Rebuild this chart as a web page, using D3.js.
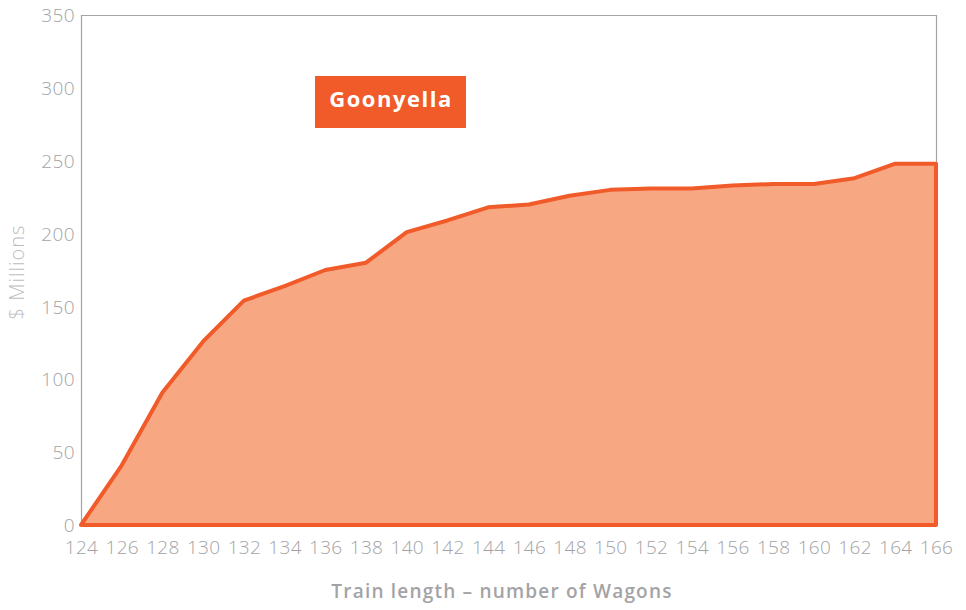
<!DOCTYPE html>
<html>
<head>
<meta charset="utf-8">
<script src="https://cdn.jsdelivr.net/npm/d3@7"></script>
<style>
  html, body { margin: 0; padding: 0; background: #fff; }
  svg { display: block; }
</style>
</head>
<body>
<svg id="chart" width="966" height="610"></svg>
<script>
// Train length (wagons) against value in $ millions
const wagons = [124, 126, 128, 130, 132, 134, 136, 138, 140, 142, 144, 146, 148, 150, 152, 154, 156, 158, 160, 162, 164, 166];
const valueMillions = [0, 41, 91, 126, 154, 164, 175, 180, 201, 209, 218, 220, 226, 230, 231, 231, 233, 234, 234, 238, 248, 248];
const yTicks = [0, 50, 100, 150, 200, 250, 300, 350];
const seriesLabel = "Goonyella";
const xTitle = "Train length \u2013 number of Wagons";
const yTitle = "$ Millions";

const data = wagons.map((w, i) => ({ w, v: valueMillions[i] }));

const svg = d3.select("#chart");
const plotLeft = 81, plotRight = 936, plotTop = 15, plotBottom = 525;

const x = d3.scaleLinear().domain([124, 166]).range([plotLeft, plotRight]);
const y = d3.scaleLinear().domain([0, 350]).range([plotBottom, plotTop]);

const grey = "#a3a3a6";
const orange = "#f15a29";
const fillColor = "#f7a883";
const labelFont = "'Open Sans', sans-serif";

// Plot frame
svg.append("path")
  .attr("d", `M${plotLeft + 0.5},${plotBottom} V${plotTop + 0.5} H${plotRight + 0.5} V${plotBottom}`)
  .attr("fill", "none")
  .attr("stroke", grey)
  .attr("stroke-width", 1.2);

// Filled area with its closed outline
const area = d3.area()
  .x(d => x(d.w))
  .y0(y(0))
  .y1(d => y(d.v));

svg.append("path")
  .datum(data)
  .attr("d", area)
  .attr("fill", fillColor)
  .attr("stroke", orange)
  .attr("stroke-width", 4)
  .attr("stroke-linejoin", "round");

// Y axis labels
const yAxis = d3.axisLeft(y).tickValues(yTicks).tickSize(0).tickPadding(6);
const gy = svg.append("g").attr("transform", `translate(${plotLeft},0)`).call(yAxis);
gy.select(".domain").remove();
gy.selectAll("text")
  .attr("fill", grey)
  .attr("font-family", labelFont)
  .attr("font-weight", 300)
  .attr("font-size", 19)
  .attr("letter-spacing", 0.4)
  .attr("dy", "0.35em");

// X axis labels
const xAxis = d3.axisBottom(x).tickValues(wagons).tickSize(0).tickPadding(16).tickFormat(d3.format("d"));
const gx = svg.append("g").attr("transform", `translate(0,${plotBottom})`).call(xAxis);
gx.select(".domain").remove();
gx.selectAll("text")
  .attr("fill", grey)
  .attr("font-family", labelFont)
  .attr("font-weight", 300)
  .attr("font-size", 19)
  .attr("letter-spacing", 0.3);

// Axis titles
svg.append("text")
  .attr("x", 502)
  .attr("y", 598)
  .attr("text-anchor", "middle")
  .attr("fill", grey)
  .attr("font-family", labelFont)
  .attr("font-weight", 600)
  .attr("font-size", 19)
  .attr("letter-spacing", 1.2)
  .text(xTitle);

svg.append("text")
  .attr("transform", `translate(24,272) rotate(-90)`)
  .attr("text-anchor", "middle")
  .attr("fill", "#bdbdbf")
  .attr("font-family", labelFont)
  .attr("font-weight", 300)
  .attr("font-size", 20)
  .attr("letter-spacing", 1)
  .text(yTitle);

// Series label badge
const badge = svg.append("g").attr("transform", "translate(315,76)");
badge.append("rect")
  .attr("width", 151)
  .attr("height", 52)
  .attr("fill", orange);
badge.append("text")
  .attr("x", 76)
  .attr("y", 31)
  .attr("text-anchor", "middle")
  .attr("fill", "#fff")
  .attr("font-family", labelFont)
  .attr("font-weight", 700)
  .attr("font-size", 22)
  .attr("letter-spacing", 1.5)
  .text(seriesLabel);
</script>
</body>
</html>
